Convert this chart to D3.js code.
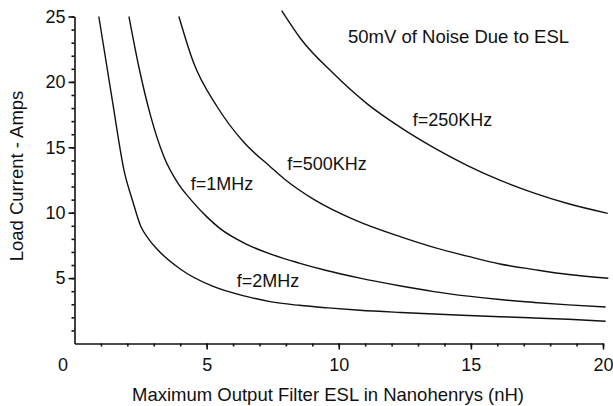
<!DOCTYPE html>
<html>
<head>
<meta charset="utf-8">
<script src="https://cdn.jsdelivr.net/npm/d3@7"></script>
<style>
  body { margin: 0; background: #fff; }
  text { font-family: "Liberation Sans", Arial, sans-serif; fill: #111; }
</style>
</head>
<body>
<div id="chart"></div>
<script>
// Set H/W
const svgWidth = 613;
const svgHeight = 406;

// curve data: [ESL nH, load current A]
const f2MHz = [[0.92, 25], [1.43, 18.6], [1.9, 13.0], [2.2, 10.9], [2.5, 9.0], [2.8, 8.0], [3.13, 7.2],
  [4.0, 5.7], [5.2, 4.4], [6.5, 3.6], [7.4, 3.2], [8.5, 2.92], [9.6, 2.72], [10.8, 2.54], [12.35, 2.37],
  [13.6, 2.25], [14.9, 2.14], [16.1, 2.05], [17.4, 1.95], [18.7, 1.85], [20.1, 1.7]];
const f1MHz = [[2.06, 25], [2.44, 21.1], [2.88, 17.4], [3.38, 14.3], [3.9, 12.3], [4.4, 11.0], [5.0, 9.7],
  [5.5, 8.8], [6.5, 7.6], [7.4, 6.85], [8.5, 6.15], [9.5, 5.6], [10.8, 5.0], [12.35, 4.4], [13.6, 3.97],
  [14.9, 3.62], [16.1, 3.36], [17.4, 3.14], [18.7, 2.95], [20.1, 2.79]];
const f500KHz = [[3.95, 25], [4.5, 21.5], [5.4, 18.1], [6.4, 15.4], [7.42, 13.5], [7.93, 12.6], [9.07, 11.0],
  [10.6, 9.45], [12.35, 8.15], [13.6, 7.35], [14.9, 6.66], [16.1, 6.08], [17.4, 5.65], [18.7, 5.27], [20.2, 4.99]];
const f250KHz = [[7.84, 25.45], [8.56, 23.3], [9.82, 20.6], [11.09, 18.3], [12.35, 16.5], [13.61, 14.95],
  [14.87, 13.6], [16.14, 12.45], [17.4, 11.5], [18.66, 10.7], [20.18, 9.95]];

// curve labels: [text, x, y] in data units
const curveLabels = [["f=250KHz", 12.8, 16.6], ["f=500KHz", 8.05, 13.3], ["f=1MHz", 4.4, 11.7], ["f=2MHz", 6.14, 4.3]];

const xTicks = [0, 5, 10, 15, 20];
const yTicks = [5, 10, 15, 20, 25];

const titleText = "50mV of Noise Due to ESL";
const xTitle = "Maximum Output Filter ESL in Nanohenrys (nH)";
const yTitle = "Load Current - Amps";

const svg = d3.select("#chart")
  .append("svg")
  .attr("width", svgWidth)
  .attr("height", svgHeight);

// scales
const x = d3.scaleLinear().domain([0, 20]).range([74.5, 603]);
const y = d3.scaleLinear().domain([0, 25]).range([343.5, 16.5]);

// minor ticks first, then the labelled axes on top
svg.append("g")
  .attr("transform", `translate(0, ${y(0)})`)
  .call(d3.axisBottom(x).tickValues(d3.range(1, 21)).tickSize(3).tickFormat(""))
  .call(g => g.select(".domain").remove());

svg.append("g")
  .attr("transform", `translate(${x(0)}, 0)`)
  .call(d3.axisLeft(y).tickValues(d3.range(1, 26)).tickSize(3).tickFormat(""))
  .call(g => g.select(".domain").remove());

const xAxis = svg.append("g")
  .attr("transform", `translate(0, ${y(0)})`)
  .call(d3.axisBottom(x).tickValues(xTicks).tickSize(6).tickSizeOuter(0).tickPadding(9));

// the 0 label sits left of the corner, no tick mark there
xAxis.selectAll(".tick").filter(d => d === 0).select("line").remove();
xAxis.selectAll(".tick").filter(d => d === 0).select("text").attr("dx", -12);

svg.append("g")
  .attr("transform", `translate(${x(0)}, 0)`)
  .call(d3.axisLeft(y).tickValues(yTicks).tickSize(6).tickSizeOuter(0).tickPadding(3));

svg.selectAll(".domain, .tick line")
  .attr("stroke", "#111")
  .attr("stroke-width", 1.6);

svg.selectAll(".tick text")
  .style("font-family", "'Liberation Sans', Arial, sans-serif")
  .style("font-size", "18px")
  .attr("fill", "#111");

// curves
const line = d3.line()
  .x(d => x(d[0]))
  .y(d => y(d[1]))
  .curve(d3.curveMonotoneX);

[f2MHz, f1MHz, f500KHz, f250KHz].forEach(series => {
  svg.append("path")
    .datum(series)
    .attr("d", line)
    .attr("fill", "none")
    .attr("stroke", "#111")
    .attr("stroke-width", 1.4);
});

// curve labels
svg.selectAll(".curve-label")
  .data(curveLabels)
  .enter()
  .append("text")
  .attr("class", "curve-label")
  .attr("x", d => x(d[1]))
  .attr("y", d => y(d[2]))
  .style("font-size", "18px")
  .text(d => d[0]);

// title inside the plot
svg.append("text")
  .attr("x", x(10.35))
  .attr("y", y(23.0))
  .style("font-size", "18.5px")
  .text(titleText);

// axis titles
svg.append("text")
  .attr("x", 328)
  .attr("y", 401)
  .attr("text-anchor", "middle")
  .style("font-size", "18.5px")
  .text(xTitle);

svg.append("text")
  .attr("transform", "rotate(-90)")
  .attr("x", -176)
  .attr("y", 23)
  .attr("text-anchor", "middle")
  .style("font-size", "18.5px")
  .text(yTitle);
</script>
</body>
</html>
